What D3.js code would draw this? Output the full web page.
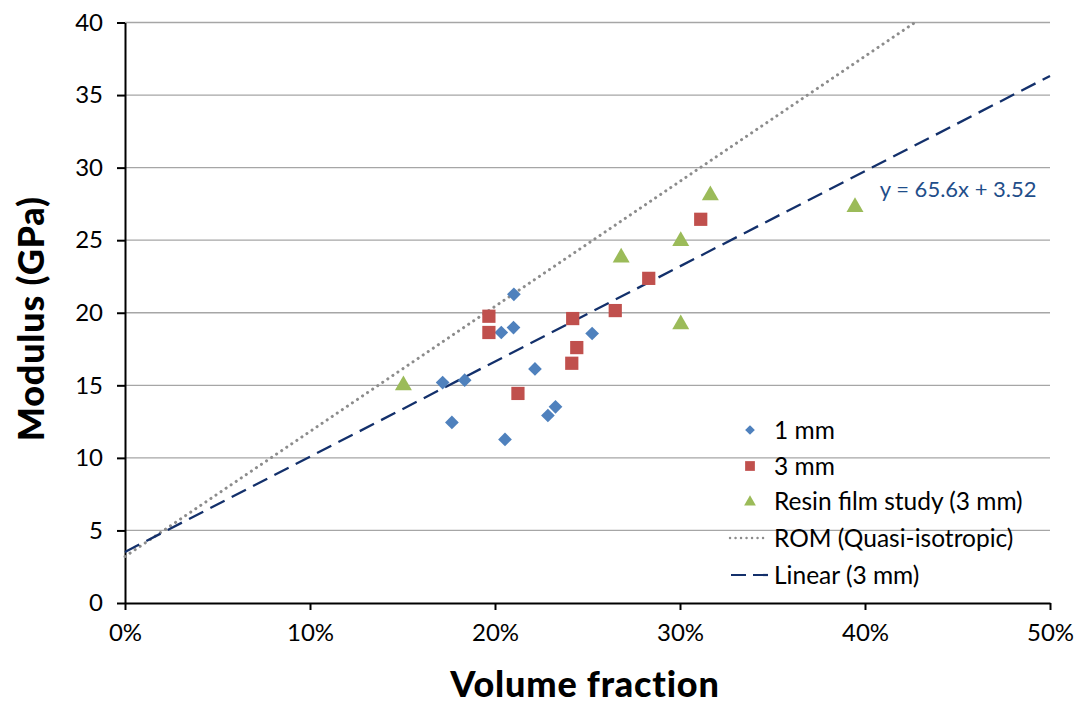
<!DOCTYPE html>
<html>
<head>
<meta charset="utf-8">
<script src="https://cdn.jsdelivr.net/npm/d3@7"></script>
<style>
  body { margin: 0; background: #fff; }
  svg { display: block; font-family: Lato, "Open Sans", sans-serif; }
  .tick text { font-size: 24px; fill: #000; }
  .axis path, .axis line { stroke: #000; stroke-width: 2px; }
  .grid line { stroke: #a6a6a6; stroke-width: 1.3px; }
  .axisTitle { font-size: 36px; font-weight: 900; letter-spacing: 0.8px; }
  .legend text { font-size: 24.5px; }
</style>
</head>
<body>
<script>
// volume fraction (0-1) and modulus (GPa)
const oneMmX = [0.1717, 0.1767, 0.1836, 0.2034, 0.2054, 0.2100, 0.2102, 0.2216, 0.2286, 0.2327, 0.2525];
const oneMmY = [15.19, 12.44, 15.35, 18.64, 11.27, 18.98, 21.27, 16.13, 12.92, 13.52, 18.57];

const threeMmX = [0.1967, 0.1967, 0.2124, 0.2415, 0.2420, 0.2442, 0.2650, 0.2831, 0.3112];
const threeMmY = [19.76, 18.64, 14.44, 16.52, 19.60, 17.60, 20.15, 22.37, 26.44];

const resinX = [0.1505, 0.2682, 0.3004, 0.3004, 0.3164, 0.3946];
const resinY = [15.00, 23.80, 24.94, 19.20, 28.09, 27.28];

// line endpoints
const romX = [0, 0.427];
const romY = [3.2, 40];
const linX = [0, 0.5];
const linY = [3.52, 36.32];

const xTicks = [0, 0.1, 0.2, 0.3, 0.4, 0.5];
const yTicks = [0, 5, 10, 15, 20, 25, 30, 35, 40];

const legendLabels = ["1 mm", "3 mm", "Resin film study (3 mm)", "ROM (Quasi-isotropic)", "Linear (3 mm)"];
const equationText = "y = 65.6x + 3.52";

const colors = { one: "#4f81bd", three: "#c0504d", resin: "#9bbb59", rom: "#8c8c8c", lin: "#13306b" };

const W = 1083, H = 704;
const margin = { top: 22.5, right: 33, bottom: 101, left: 125 };
const width = W - margin.left - margin.right;
const height = H - margin.top - margin.bottom;

const svg = d3.select("body").append("svg").attr("width", W).attr("height", H);
const g = svg.append("g").attr("transform", `translate(${margin.left},${margin.top})`);

const x = d3.scaleLinear().domain([0, 0.5]).range([0, width]);
const y = d3.scaleLinear().domain([0, 40]).range([height, 0]);

// gridlines
g.append("g").attr("class", "grid")
  .selectAll("line").data(yTicks.filter(d => d > 0)).enter().append("line")
  .attr("x1", 0).attr("x2", width)
  .attr("y1", d => y(d)).attr("y2", d => y(d));

// axes
g.append("g").attr("class", "axis")
  .attr("transform", `translate(0,${height})`)
  .call(d3.axisBottom(x).tickValues(xTicks).tickFormat(d3.format(".0%")).tickSize(7).tickPadding(14).tickSizeOuter(0));
g.append("g").attr("class", "axis")
  .call(d3.axisLeft(y).tickValues(yTicks).tickSize(8).tickPadding(14).tickSizeOuter(0));
g.selectAll(".tick text").attr("font-family", "Lato, sans-serif");

// lines
const line = d3.line().x(d => x(d[0])).y(d => y(d[1]));
g.append("path").datum(d3.zip(romX, romY)).attr("d", line)
  .attr("fill", "none").attr("stroke", colors.rom).attr("stroke-width", 3)
  .attr("stroke-dasharray", "0.1 6").attr("stroke-linecap", "round");
g.append("path").datum(d3.zip(linX, linY)).attr("d", line)
  .attr("fill", "none").attr("stroke", colors.lin).attr("stroke-width", 2.3)
  .attr("stroke-dasharray", "16 8");

// markers
const diamond = d3.symbol().type(d3.symbolDiamond2).size(120);
const square = d3.symbol().type(d3.symbolSquare).size(175);
const triangle = d3.symbol().type(d3.symbolTriangle).size(125);

g.selectAll(".one").data(d3.zip(oneMmX, oneMmY)).enter().append("path")
  .attr("d", diamond).attr("fill", colors.one)
  .attr("transform", d => `translate(${x(d[0])},${y(d[1])})`);
g.selectAll(".three").data(d3.zip(threeMmX, threeMmY)).enter().append("path")
  .attr("d", square).attr("fill", colors.three)
  .attr("transform", d => `translate(${x(d[0])},${y(d[1])})`);
g.selectAll(".resin").data(d3.zip(resinX, resinY)).enter().append("path")
  .attr("d", triangle).attr("fill", colors.resin)
  .attr("transform", d => `translate(${x(d[0])},${y(d[1])})`);

// equation label
g.append("text").attr("x", x(0.408)).attr("y", y(28.0))
  .attr("fill", "#1f4e8a").style("font-size", "22px").text(equationText);

// axis titles
svg.append("text").attr("class", "axisTitle")
  .attr("text-anchor", "middle")
  .attr("transform", `translate(44,${margin.top + height / 2 + 6}) rotate(-90)`)
  .text("Modulus (GPa)");
svg.append("text").attr("class", "axisTitle")
  .attr("text-anchor", "middle")
  .attr("x", 585).attr("y", 697)
  .text("Volume fraction");

// legend
const legend = svg.append("g").attr("class", "legend");
const rowY = [430, 466, 501, 538, 575];
legendLabels.forEach((label, i) => {
  const row = legend.append("g").attr("transform", `translate(0,${rowY[i]})`);
  if (i === 0) row.append("path").attr("d", d3.symbol().type(d3.symbolDiamond2).size(60)).attr("fill", colors.one).attr("transform", "translate(750,0)");
  if (i === 1) row.append("path").attr("d", d3.symbol().type(d3.symbolSquare).size(95)).attr("fill", colors.three).attr("transform", "translate(750,0)");
  if (i === 2) row.append("path").attr("d", d3.symbol().type(d3.symbolTriangle).size(60)).attr("fill", colors.resin).attr("transform", "translate(750,1)");
  if (i === 3) row.append("line").attr("x1", 730).attr("x2", 766).attr("stroke", colors.rom).attr("stroke-width", 2.4)
    .attr("stroke-dasharray", "0.1 5.4").attr("stroke-linecap", "round");
  if (i === 4) row.append("line").attr("x1", 731).attr("x2", 772).attr("stroke", colors.lin).attr("stroke-width", 2.2)
    .attr("stroke-dasharray", "15 7");
  row.append("text").attr("x", 774).attr("y", 8.5).text(label);
});
</script>
</body>
</html>
